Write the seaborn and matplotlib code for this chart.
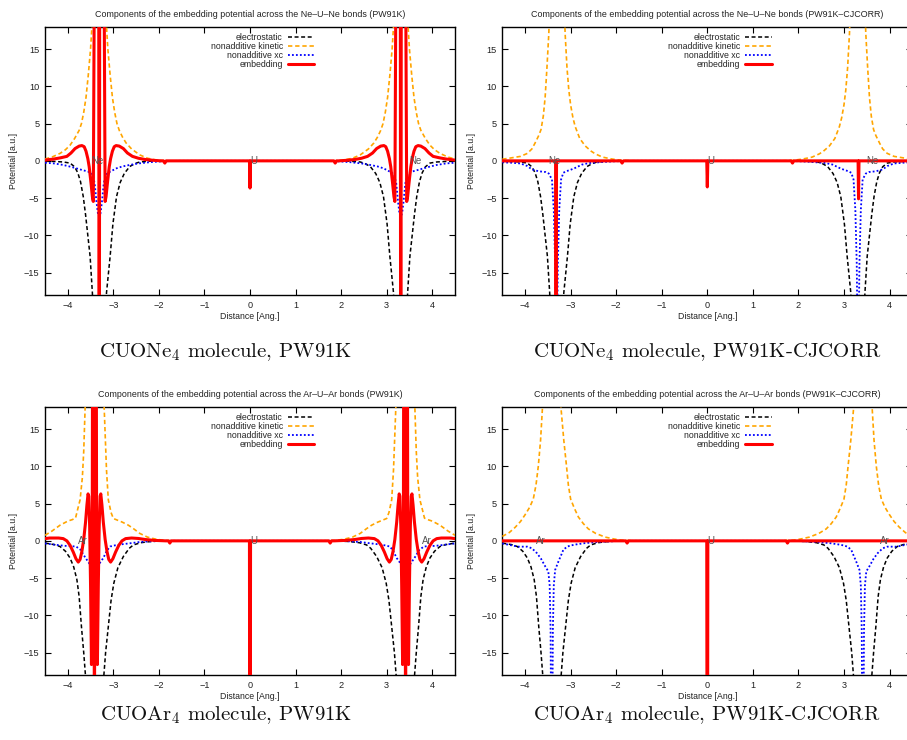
import matplotlib
matplotlib.use('Agg')
import matplotlib.pyplot as plt
import seaborn as sns

# ---------------- data (left half of each curve, x in Angstrom) ----------------
# Ne system: electrostatic (same for both functionals)
ne_es_x = [-4.5, -4.3, -4.1, -3.95, -3.85, -3.78, -3.72, -3.66, -3.61, -3.56, -3.51, -3.46, -3.42, -3.31,
           -3.19, -3.15, -3.07, -3.01, -2.93, -2.85, -2.76, -2.64, -2.52, -2.42, -2.2, -1.9, -1.6]
ne_es_y = [-0.05, -0.08, -0.15, -0.3, -0.8, -1.6, -2.8, -4.8, -7.2, -10, -12.8, -17.7, -24, -60,
           -24, -17.7, -12.8, -8.5, -4.8, -2.9, -1.7, -0.76, -0.35, -0.15, -0.05, 0.0, 0.0]

# Ne, PW91K
ne_pw_kin_x = [-4.5, -4.35, -4.17, -4.05, -3.95, -3.85, -3.75, -3.7, -3.65, -3.6, -3.55, -3.5, -3.46, -3.42, -3.31,
               -3.2, -3.16, -3.12, -3.07, -3.02, -2.97, -2.92, -2.87, -2.8, -2.72, -2.6, -2.42, -2.25, -2.05, -1.85, -1.6]
ne_pw_kin_y = [0.25, 0.5, 1.0, 1.5, 2.1, 3.0, 4.1, 5.0, 6.5, 8.5, 11.5, 15, 19, 25, 40,
               25, 19, 15, 11.5, 8.5, 6.5, 5.0, 4.1, 3.2, 2.4, 1.6, 0.8, 0.35, 0.1, 0.0, 0.0]
ne_pw_xc_x = [-4.5, -4.3, -4.1, -3.9, -3.7, -3.55, -3.46, -3.41, -3.37, -3.34, -3.31, -3.28, -3.25, -3.21,
              -3.16, -3.07, -2.93, -2.8, -2.64, -2.45, -2.2, -1.95, -1.6]
ne_pw_xc_y = [-0.25, -0.35, -0.55, -0.85, -1.2, -1.45, -1.8, -3.0, -5.5, -7.0, -7.5, -7.0, -5.5, -3.0,
              -1.8, -1.45, -1.0, -0.75, -0.55, -0.35, -0.18, -0.07, 0.0]
ne_pw_emb_x = [-4.5, -4.3, -4.15, -4.02, -3.93, -3.84, -3.75, -3.69, -3.64, -3.6, -3.56, -3.53, -3.49, -3.46, -3.44,
               -3.39, -3.325, -3.31, -3.295, -3.23,
               -3.18, -3.16, -3.13, -3.09, -3.06, -3.02, -2.98, -2.94, -2.87, -2.78, -2.69, -2.58, -2.45, -2.3,
               -2.1, -1.95, -1.9, -1.87, -1.84, -1.8, -1.6]
ne_pw_emb_y = [0.1, 0.25, 0.42, 0.6, 1.05, 1.65, 1.98, 2.05, 1.9, 1.3, 0.3, -0.8, -3.0, -4.8, -5.45,
               60, 60, -60, 60, 60,
               -5.45, -4.8, -3.0, -0.8, 0.3, 1.3, 1.9, 2.05, 1.98, 1.65, 1.05, 0.6, 0.35, 0.18,
               0.06, 0.0, 0.0, -0.3, 0.0, 0.0, 0.0]
ne_pw_u_x = [-0.012, 0.0, 0.012]
ne_pw_u_y = [0.0, -3.65, 0.0]

# Ne, PW91K-CJCORR
ne_cj_kin_x = [-4.5, -4.3, -4.1, -3.95, -3.85, -3.78, -3.7, -3.65, -3.6, -3.56, -3.52, -3.48, -3.45, -3.31,
               -3.15, -3.12, -3.08, -3.04, -3.0, -2.95, -2.9, -2.8, -2.68, -2.55, -2.46, -2.3, -2.1, -1.9, -1.6]
ne_cj_kin_y = [0.22, 0.4, 0.6, 1.0, 1.6, 2.4, 3.4, 4.2, 6.0, 8.5, 12.5, 17, 22, 40,
               22, 17, 12.5, 9.5, 7.5, 5.8, 4.6, 3.0, 2.0, 1.3, 0.94, 0.5, 0.25, 0.08, 0.0]
ne_cj_xc_x = [-4.5, -4.3, -4.1, -3.95, -3.85, -3.7, -3.55, -3.48, -3.41, -3.37, -3.34, -3.31, -3.28, -3.25, -3.21,
              -3.16, -3.1, -3.0, -2.9, -2.75, -2.6, -2.3, -2.0, -1.6]
ne_cj_xc_y = [-0.2, -0.25, -0.35, -0.7, -1.15, -1.4, -1.5, -1.7, -2.5, -6.6, -13.7, -30, -13.7, -6.6, -2.5,
              -1.6, -1.4, -1.2, -0.95, -0.5, -0.3, -0.15, -0.05, 0.0]
ne_cj_emb_x = [-4.5, -3.33, -3.32, -3.31, -1.9, -1.87, -1.84, -0.012, 0.0, 0.012,
               1.84, 1.87, 1.9, 3.31, 3.32, 3.33, 4.5]
ne_cj_emb_y = [0.0, 0.0, -60, 0.0, 0.0, -0.3, 0.0, 0.0, -3.5, 0.0,
               0.0, -0.3, 0.0, 0.0, -5.1, 0.0, 0.0]

# Ar system: electrostatic
ar_es_x = [-4.5, -4.3, -4.17, -4.05, -3.95, -3.87, -3.8, -3.75, -3.7, -3.65, -3.6, -3.55, -3.415,
           -3.28, -3.22, -3.17, -3.11, -3.05, -2.99, -2.9, -2.78, -2.65, -2.56, -2.4, -2.2, -2.0, -1.6]
ar_es_y = [-0.3, -0.5, -0.76, -1.4, -2.3, -3.5, -5.2, -7.5, -11.5, -15, -19, -25, -60,
           -25, -19, -15, -11.5, -8, -5.7, -3.6, -2.1, -1.0, -0.55, -0.25, -0.1, -0.03, 0.0]

# Ar, PW91K
ar_pw_kin_x = [-4.5, -4.35, -4.17, -4.0, -3.9, -3.83, -3.78, -3.73, -3.68, -3.65, -3.62, -3.58, -3.415,
               -3.25, -3.2, -3.15, -3.11, -3.05, -3.0, -2.9, -2.8, -2.67, -2.55, -2.42, -2.25, -2.05, -1.85, -1.6]
ar_pw_kin_y = [0.75, 1.3, 2.1, 2.65, 2.85, 3.05, 4.3, 5.5, 8.5, 12, 17.7, 25, 50,
               25, 17.7, 9.5, 5.5, 3.8, 3.0, 2.75, 2.5, 2.1, 1.6, 1.0, 0.5, 0.2, 0.05, 0.0]
ar_pw_xc_x = [-4.5, -4.3, -4.1, -3.95, -3.82, -3.72, -3.62, -3.52, -3.46, -3.415, -3.37, -3.3, -3.22,
              -3.14, -3.07, -2.96, -2.8, -2.6, -2.42, -2.2, -1.9, -1.6]
ar_pw_xc_y = [-0.35, -0.5, -0.65, -0.72, -0.75, -1.2, -2.2, -3.1, -3.5, -3.7, -3.5, -3.0, -2.3,
              -1.3, -0.76, -0.6, -0.45, -0.3, -0.15, -0.07, 0.0, 0.0]
ar_pw_emb_x = [-4.5, -4.4, -4.2, -4.1, -4.02, -3.95, -3.88, -3.82, -3.77, -3.73, -3.69, -3.65, -3.61, -3.58,
               -3.555, -3.54, -3.52, -3.5, -3.48, -3.465, -3.45, -3.425, -3.415, -3.405, -3.38, -3.365,
               -3.35, -3.33, -3.31, -3.29, -3.275, -3.25, -3.22, -3.18, -3.14, -3.1, -3.06, -3.01, -2.95,
               -2.88, -2.81, -2.73, -2.6, -2.45, -2.3, -2.1, -1.85, -1.79, -1.76, -1.73, -1.6]
ar_pw_emb_y = [0.3, 0.38, 0.38, 0.3, 0.0, -0.6, -1.5, -2.4, -2.85, -2.5, -1.4, 0.2, 2.5, 4.8,
               6.3, 6.0, 2.0, -6, -16.6, -8, 50, 50, -60, 50, 50, -8,
               -16.6, -6, 2.0, 6.0, 6.3, 4.8, 2.5, 0.2, -1.4, -2.5, -2.85, -2.4, -1.5,
               -0.6, 0.0, 0.3, 0.38, 0.32, 0.18, 0.06, 0.0, 0.0, -0.3, 0.0, 0.0]
ar_u_x = [-0.012, 0.0, 0.012]
ar_u_y = [0.0, -60, 0.0]

# Ar, PW91K-CJCORR
ar_cj_kin_x = [-4.5, -4.35, -4.22, -4.1, -4.0, -3.9, -3.82, -3.76, -3.71, -3.66, -3.62, -3.58, -3.415,
               -3.25, -3.21, -3.15, -3.09, -3.05, -3.0, -2.92, -2.83, -2.72, -2.61, -2.45, -2.24, -2.05, -1.9, -1.6]
ar_cj_kin_y = [0.6, 1.1, 1.8, 2.6, 3.5, 4.5, 5.6, 7.5, 10, 13.5, 17.7, 23, 50,
               23, 17.7, 13.5, 10, 7.5, 5.6, 4.4, 3.2, 2.3, 1.6, 1.0, 0.5, 0.25, 0.1, 0.0]
ar_cj_xc_x = [-4.5, -4.3, -4.15, -3.95, -3.85, -3.74, -3.65, -3.56, -3.49, -3.46, -3.44, -3.415, -3.39,
              -3.37, -3.34, -3.27, -3.2, -3.16, -3.08, -3.01, -2.85, -2.68, -2.45, -2.24, -2.0, -1.6]
ar_cj_xc_y = [-0.35, -0.6, -0.78, -0.78, -1.0, -1.65, -2.4, -3.4, -4.1, -6, -12, -40, -12,
              -6, -3.9, -2.8, -1.8, -1.2, -0.8, -0.63, -0.45, -0.3, -0.18, -0.1, -0.03, 0.0]
ar_cj_emb_x = [-4.5, -1.79, -1.76, -1.73, -0.012, 0.0, 0.012, 1.73, 1.76, 1.79, 4.5]
ar_cj_emb_y = [0.0, 0.0, -0.3, 0.0, 0.0, -60, 0.0, 0.0, -0.3, 0.0, 0.0]

series_names = ['electrostatic', 'nonadditive kinetic', 'nonadditive xc', 'embedding']
titles = ['Components of the embedding potential across the Ne\u2013U\u2013Ne bonds (PW91K)',
          'Components of the embedding potential across the Ne\u2013U\u2013Ne bonds (PW91K\u2013CJCORR)',
          'Components of the embedding potential across the Ar\u2013U\u2013Ar bonds (PW91K)',
          'Components of the embedding potential across the Ar\u2013U\u2013Ar bonds (PW91K\u2013CJCORR)']
captions = ['CUONe$_4$ molecule, PW91K', 'CUONe$_4$ molecule, PW91K-CJCORR',
            'CUOAr$_4$ molecule, PW91K', 'CUOAr$_4$ molecule, PW91K-CJCORR']
atom_labels = [[('Ne', -3.49), ('U', 0.0), ('Ne', 3.49)],
               [('Ne', -3.49), ('U', 0.0), ('Ne', 3.5)],
               [('Ar', -3.77), ('U', 0.0), ('Ar', 3.78)],
               [('Ar', -3.77), ('U', 0.0), ('Ar', 3.78)]]
x_ticks = [-4, -3, -2, -1, 0, 1, 2, 3, 4]
y_ticks = [-15, -10, -5, 0, 5, 10, 15]


def mirror(xl, yl, xm=(), ym=()):
    """Left-half samples + optional centre samples + the same samples reflected to x>0."""
    x = list(xl) + list(xm) + [-v for v in reversed(xl)]
    y = list(yl) + list(ym) + list(reversed(yl))
    return x, y


panels = [
    [mirror(ne_es_x, ne_es_y), mirror(ne_pw_kin_x, ne_pw_kin_y), mirror(ne_pw_xc_x, ne_pw_xc_y),
     mirror(ne_pw_emb_x, ne_pw_emb_y, ne_pw_u_x, ne_pw_u_y)],
    [mirror(ne_es_x, ne_es_y), mirror(ne_cj_kin_x, ne_cj_kin_y), mirror(ne_cj_xc_x, ne_cj_xc_y),
     (ne_cj_emb_x, ne_cj_emb_y)],
    [mirror(ar_es_x, ar_es_y), mirror(ar_pw_kin_x, ar_pw_kin_y), mirror(ar_pw_xc_x, ar_pw_xc_y),
     mirror(ar_pw_emb_x, ar_pw_emb_y, ar_u_x, ar_u_y)],
    [mirror(ar_es_x, ar_es_y), mirror(ar_cj_kin_x, ar_cj_kin_y), mirror(ar_cj_xc_x, ar_cj_xc_y),
     (ar_cj_emb_x, ar_cj_emb_y)],
]

# ---------------- styling ----------------
sns.set_style('ticks')
plt.rcParams['font.family'] = ['Liberation Sans', 'DejaVu Sans']
plt.rcParams['mathtext.fontset'] = 'cm'
plt.rcParams['axes.unicode_minus'] = True
plt.rcParams['lines.solid_joinstyle'] = 'round'

styles = {
    'electrostatic': dict(color='#000000', linewidth=1.1, linestyle=(0, (2.6, 1.7)), zorder=3),
    'nonadditive kinetic': dict(color='#FFA500', linewidth=1.2, linestyle=(0, (2.6, 1.7)), zorder=4),
    'nonadditive xc': dict(color='#0000FF', linewidth=1.3, linestyle=(0, (1, 1.2)), zorder=5),
    'embedding': dict(color='#FF0000', linewidth=2.2, linestyle='-', zorder=7),
}

W, H = 907, 740
fig = plt.figure(figsize=(W / 100, H / 100), dpi=100)
ax_pos = [(45, 26.7), (502.3, 26.7), (45, 406.7), (502.3, 406.7)]
AW, AH = 410, 268.3
caption_pos = [(226, 352), (707, 352), (226, 715), (707, 715)]

for i, curves in enumerate(panels):
    left, top = ax_pos[i]
    ax = fig.add_axes([left / W, 1 - (top + AH) / H, AW / W, AH / H])
    for name, (xs, ys) in zip(series_names, curves):
        st = styles[name]
        sns.lineplot(x=xs, y=ys, ax=ax, sort=False, estimator=None, label=name,
                     color=st['color'], linewidth=st['linewidth'], linestyle=st['linestyle'],
                     zorder=st['zorder'])
    for txt, xa in atom_labels[i]:
        ax.text(xa, 0, txt, ha='left', va='center', fontsize=7, color='#555555', zorder=8)
    ax.set_xlim(-4.5, 4.5)
    ax.set_ylim(-18, 18)
    ax.set_xticks(x_ticks)
    ax.set_yticks(y_ticks)
    ax.tick_params(direction='in', top=True, right=True, length=4, width=0.8,
                   labelsize=6.6, pad=4, colors='#000000', labelcolor='#222222')
    for sp in ax.spines.values():
        sp.set_visible(True)
        sp.set_linewidth(1.0)
        sp.set_color('#000000')
    ax.set_title(titles[i], fontsize=6.4, pad=7, color='#222222')
    ax.set_xlabel('Distance [Ang.]', fontsize=6.3, labelpad=2, color='#222222')
    ax.set_ylabel('Potential [a.u.]', fontsize=6.3, labelpad=4, color='#222222')
    ax.legend(loc='upper right', bbox_to_anchor=(0.657, 0.975), markerfirst=False, frameon=False,
              fontsize=6.3, handlelength=3.0, handletextpad=0.6, labelspacing=0.0,
              borderpad=0, borderaxespad=0)
    cx, cy = caption_pos[i]
    fig.text(cx / W, 1 - cy / H, captions[i], ha='center', va='center', fontsize=15,
             family='cmr10', color='#111111')

fig.savefig('out.png', dpi=100)
